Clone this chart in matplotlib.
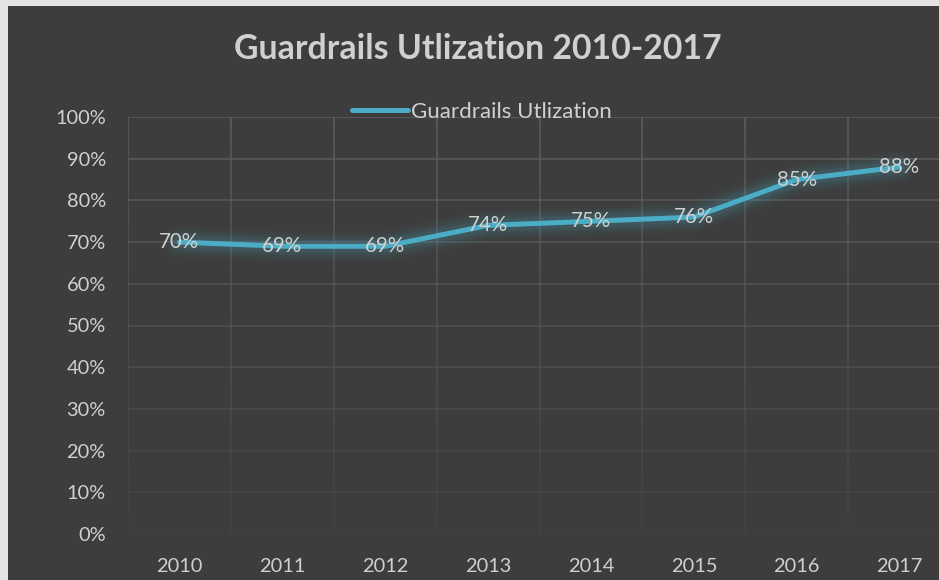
import matplotlib
matplotlib.use("Agg")
import matplotlib.pyplot as plt
import numpy as np
from matplotlib.collections import LineCollection
from matplotlib.patches import Rectangle

# data
years = ["2010", "2011", "2012", "2013", "2014", "2015", "2016", "2017"]
utilization = [0.70, 0.69, 0.69, 0.74, 0.75, 0.76, 0.85, 0.88]
y_ticks = [0.0, 0.1, 0.2, 0.3, 0.4, 0.5, 0.6, 0.7, 0.8, 0.9, 1.0]
title = "Guardrails Utlization 2010-2017"
series_name = "Guardrails Utlization"

BG = "#3d3d3d"
LINE = "#4bacc6"
TEXT = "#d0d0d0"
GRID = "#5c5c5c"

plt.rcParams["font.family"] = ["Lato", "DejaVu Sans"]

W, H = 939, 580
fig = plt.figure(figsize=(W / 100, H / 100), dpi=100, facecolor="#e3e3e3")

# chart area (cropped on right / bottom like the source screenshot)
fig.patches.append(Rectangle((8 / W, 0), 1, 1 - 6 / H, transform=fig.transFigure,
                             facecolor=BG, edgecolor="none", zorder=-10))

ax = fig.add_axes([128 / W, (H - 534) / H, 823 / W, 417 / H])
ax.set_facecolor("none")
n = len(years)
x = np.arange(n)
ax.set_xlim(-0.5, n - 0.5)
ax.set_ylim(0, 1)
for s in ax.spines.values():
    s.set_visible(False)

# gridlines fading toward the bottom
def fade(v):
    return 0.12 + 0.88 * v

for t in y_ticks:
    ax.axhline(t, color=GRID, lw=1.2, alpha=fade(t), zorder=1)
ys = np.linspace(0, 1, 60)
for b in np.arange(-0.5, n + 0.5, 1.0):
    segs = [[(b, ys[i]), (b, ys[i + 1])] for i in range(len(ys) - 1)]
    cols = [(0.36, 0.36, 0.36, fade(ys[i])) for i in range(len(ys) - 1)]
    ax.add_collection(LineCollection(segs, colors=cols, linewidths=1.2, zorder=1))

# glow
for lw, a in [(22, 0.04), (17, 0.05), (13, 0.07), (9, 0.1)]:
    ax.plot(x, utilization, color=LINE, lw=lw, alpha=a, solid_capstyle="round",
            solid_joinstyle="round", zorder=2)
line, = ax.plot(x, utilization, color=LINE, lw=3.6, solid_capstyle="round",
                solid_joinstyle="round", zorder=3, label=series_name)

for xi, v in zip(x, utilization):
    ax.text(xi, v, f"{v * 100:.0f}%", ha="center", va="center",
            color=TEXT, fontsize=14.8, zorder=4)

ax.set_xticks(x)
ax.set_xticklabels(years)
ax.set_yticks(y_ticks)
ax.set_yticklabels([f"{t * 100:.0f}%" for t in y_ticks])
ax.tick_params(length=0, colors=TEXT, labelsize=14.4)
ax.tick_params(axis="x", pad=17)
ax.tick_params(axis="y", pad=16)

fig.text(478 / W, 1 - 49 / H, title, ha="center", va="center", color=TEXT,
         fontsize=24.4, fontweight="bold")

leg = ax.legend(handles=[line], loc="center", bbox_to_anchor=(482 / W, 1 - 112 / H),
                bbox_transform=fig.transFigure, frameon=False, fontsize=16,
                handlelength=2.5, handletextpad=0.15, labelcolor=TEXT)

fig.savefig("out.png", dpi=100, facecolor=fig.get_facecolor())
